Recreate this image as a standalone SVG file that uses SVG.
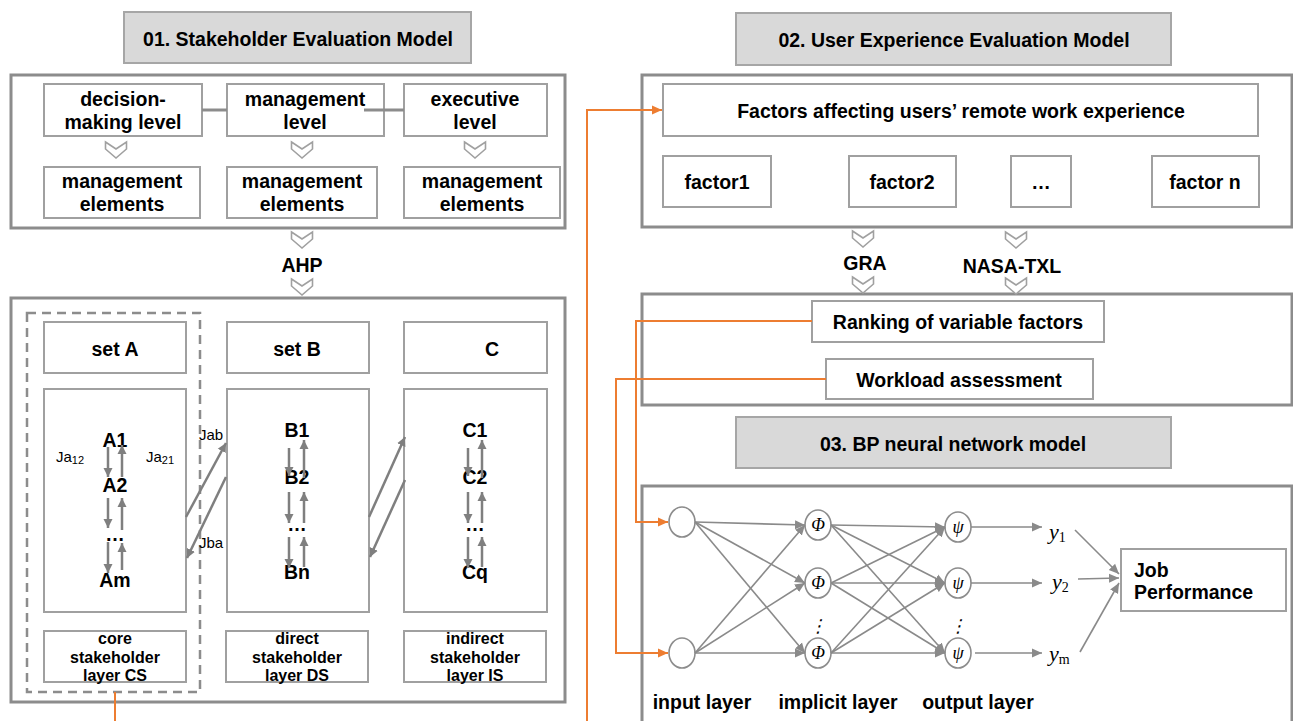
<svg xmlns="http://www.w3.org/2000/svg" width="1293" height="721" viewBox="0 0 1293 721">
<style>
.bg{fill:#fff}
.title{fill:#d9d9d9;stroke:#a6a6a6;stroke-width:2}
.outer{fill:none;stroke:#8c8c8c;stroke-width:3}
.box{fill:#fff;stroke:#a0a0a0;stroke-width:2}
.t{font-family:"Liberation Sans",Arial,sans-serif;font-weight:bold;font-size:19.5px;fill:#000;text-anchor:middle}
.tl{font-family:"Liberation Sans",Arial,sans-serif;font-weight:bold;font-size:19.5px;fill:#000;text-anchor:start}
.ts{font-family:"Liberation Sans",Arial,sans-serif;font-weight:bold;font-size:16px;fill:#000;text-anchor:middle}
.tn{font-family:"Liberation Sans",Arial,sans-serif;font-size:15px;fill:#000}
.m{font-family:"Liberation Serif","DejaVu Serif",serif;font-style:italic;font-size:18px;fill:#000;text-anchor:middle}
.y{font-family:"Liberation Serif","DejaVu Serif",serif;font-style:italic;font-size:22px;fill:#000;text-anchor:start}
.sub{font-style:normal;font-size:14px}
.chev{fill:#fff;stroke:#a0a0a0;stroke-width:1.6;stroke-linejoin:miter}
.ga{fill:none;stroke:#7f7f7f;stroke-width:2.5;marker-end:url(#ag)}
.nn{fill:none;stroke:#8a8a8a;stroke-width:1.6;marker-end:url(#an)}
.or{fill:none;stroke:#ed7d31;stroke-width:2}
.node{fill:#fff;stroke:#8c8c8c;stroke-width:1.6}
.lnk{fill:none;stroke:#8c8c8c;stroke-width:3}
</style>
<defs>
<marker id="ag" markerUnits="userSpaceOnUse" markerWidth="10" markerHeight="10" refX="9" refY="5" orient="auto"><path d="M0,0.5 L9,5 L0,9.5 z" fill="#7f7f7f"/></marker>
<marker id="an" markerUnits="userSpaceOnUse" markerWidth="11" markerHeight="10" refX="10" refY="5" orient="auto"><path d="M0,0.5 L10,5 L0,9.5 z" fill="#8a8a8a"/></marker>
<marker id="ao" markerUnits="userSpaceOnUse" markerWidth="11" markerHeight="10" refX="10" refY="5" orient="auto"><path d="M0,0.5 L10,5 L0,9.5 z" fill="#ed7d31"/></marker>
<path id="chev" class="chev" d="M-10.5,0 L0,7 L10.5,0 L10.5,7 L0,16 L-10.5,7 z"/>
</defs>
<rect class="bg" x="0" y="0" width="1293" height="721"/>

<!-- Section 1 -->
<g id="title1"><rect class="title" x="124" y="12" width="347" height="51"/><text class="t" x="298" y="46">01. Stakeholder Evaluation Model</text></g>
<g id="frame1"><rect class="outer" x="11" y="75" width="554" height="153"/></g>
<g id="frame2"><rect class="outer" x="11" y="298" width="554" height="404"/></g>
<g id="cs-dashed"><rect x="27" y="313" width="173" height="379" fill="none" stroke="#8c8c8c" stroke-width="2.5" stroke-dasharray="9 6"/></g>

<g id="n-decision"><rect class="box" x="44" y="84" width="158" height="52"/><text class="t" x="123" y="106">decision-</text><text class="t" x="123" y="129">making level</text></g>
<g id="n-management"><rect class="box" x="227" y="84" width="157" height="52"/><text class="t" x="305" y="106">management</text><text class="t" x="305" y="129">level</text></g>
<g id="n-executive"><rect class="box" x="404" y="84" width="143" height="52"/><text class="t" x="475" y="106">executive</text><text class="t" x="475" y="129">level</text></g>
<g id="n-elem1"><rect class="box" x="44" y="167" width="156" height="51"/><text class="t" x="122" y="188">management</text><text class="t" x="122" y="211">elements</text></g>
<g id="n-elem2"><rect class="box" x="227" y="167" width="150" height="51"/><text class="t" x="302" y="188">management</text><text class="t" x="302" y="211">elements</text></g>
<g id="n-elem3"><rect class="box" x="404" y="167" width="156" height="51"/><text class="t" x="482" y="188">management</text><text class="t" x="482" y="211">elements</text></g>

<g id="n-ahp"><text class="t" x="302" y="272">AHP</text></g>

<g id="n-setA"><rect class="box" x="44" y="322" width="142" height="51"/><text class="t" x="115" y="356">set A</text></g>
<g id="n-setB"><rect class="box" x="227" y="322" width="142" height="51"/><text class="t" x="297" y="356">set B</text></g>
<g id="n-setC"><rect class="box" x="404" y="322" width="143" height="51"/><text class="t" x="492" y="356">C</text></g>

<g id="n-A"><rect class="box" x="44" y="389" width="142" height="223"/>
<text class="t" x="115" y="447">A1</text><text class="t" x="115" y="492">A2</text><text class="t" x="115" y="541">…</text><text class="t" x="115" y="587">Am</text>
<text class="tn" x="56" y="462">Ja<tspan font-size="11" dy="2">12</tspan></text>
<text class="tn" x="146" y="462">Ja<tspan font-size="11" dy="2">21</tspan></text>
</g>
<g id="n-B"><rect class="box" x="227" y="389" width="142" height="223"/>
<text class="t" x="297" y="437">B1</text><text class="t" x="297" y="484">B2</text><text class="t" x="297" y="531">…</text><text class="t" x="297" y="579">Bn</text>
</g>
<g id="n-C"><rect class="box" x="404" y="389" width="143" height="223"/>
<text class="t" x="475" y="437">C1</text><text class="t" x="475" y="484">C2</text><text class="t" x="475" y="531">…</text><text class="t" x="475" y="579">Cq</text>
</g>

<g id="n-CS"><rect class="box" x="44" y="631" width="142" height="51"/><text class="ts" x="115" y="644">core</text><text class="ts" x="115" y="663">stakeholder</text><text class="ts" x="115" y="681">layer CS</text></g>
<g id="n-DS"><rect class="box" x="226" y="631" width="142" height="51"/><text class="ts" x="297" y="644">direct</text><text class="ts" x="297" y="663">stakeholder</text><text class="ts" x="297" y="681">layer DS</text></g>
<g id="n-IS"><rect class="box" x="404" y="631" width="142" height="51"/><text class="ts" x="475" y="644">indirect</text><text class="ts" x="475" y="663">stakeholder</text><text class="ts" x="475" y="681">layer IS</text></g>

<!-- Section 2 -->
<g id="title2"><rect class="title" x="736" y="13" width="435" height="52"/><text class="t" x="954" y="47">02. User Experience Evaluation Model</text></g>
<g id="frame3"><rect class="outer" x="642" y="75" width="650" height="152"/></g>
<g id="n-factors"><rect class="box" x="663" y="84" width="595" height="52"/><text class="t" x="961" y="118">Factors affecting users’ remote work experience</text></g>
<g id="n-f1"><rect class="box" x="663" y="156" width="108" height="51"/><text class="t" x="717" y="189">factor1</text></g>
<g id="n-f2"><rect class="box" x="849" y="156" width="107" height="51"/><text class="t" x="902" y="189">factor2</text></g>
<g id="n-fdots"><rect class="box" x="1011" y="156" width="60" height="51"/><text class="t" x="1041" y="189">…</text></g>
<g id="n-fn"><rect class="box" x="1152" y="156" width="107" height="51"/><text class="t" x="1205" y="189">factor n</text></g>
<g id="n-gra"><text class="t" x="865" y="270">GRA</text></g>
<g id="n-nasa"><text class="t" x="1012" y="273">NASA-TXL</text></g>
<g id="frame4"><rect class="outer" x="642" y="294" width="650" height="111"/></g>
<g id="n-ranking"><rect class="box" x="812" y="301" width="292" height="41"/><text class="t" x="958" y="329">Ranking of variable factors</text></g>
<g id="n-workload"><rect class="box" x="826" y="359" width="267" height="40"/><text class="t" x="959" y="387">Workload assessment</text></g>

<!-- Section 3 -->
<g id="title3"><rect class="title" x="736" y="417" width="435" height="51"/><text class="t" x="953" y="451">03. BP neural network model</text></g>
<g id="frame5"><path class="outer" d="M642,730 L642,486 L1292,486 L1292,730"/></g>

<g id="n-in1"><ellipse class="node" cx="682" cy="522" rx="13" ry="15"/></g>
<g id="n-in2"><ellipse class="node" cx="682" cy="653" rx="13" ry="15"/></g>
<g id="n-phi1"><ellipse class="node" cx="818" cy="525" rx="13" ry="15"/><text class="m" x="818" y="531">Φ</text></g>
<g id="n-phi2"><ellipse class="node" cx="818" cy="583" rx="13" ry="15"/><text class="m" x="818" y="589">Φ</text></g>
<g id="n-phi3"><ellipse class="node" cx="818" cy="653" rx="13" ry="15"/><text class="m" x="818" y="659">Φ</text></g>
<g id="n-psi1"><ellipse class="node" cx="958" cy="527" rx="13" ry="15"/><text class="m" x="958" y="533">ψ</text></g>
<g id="n-psi2"><ellipse class="node" cx="958" cy="583" rx="13" ry="15"/><text class="m" x="958" y="589">ψ</text></g>
<g id="n-psi3"><ellipse class="node" cx="958" cy="653" rx="13" ry="15"/><text class="m" x="958" y="659">ψ</text></g>
<g id="vdots"><text class="m" x="818" y="632" font-style="normal">⋮</text><text class="m" x="958" y="632" font-style="normal">⋮</text></g>
<g id="n-y1"><text class="y" x="1049" y="539">y<tspan class="sub" dy="3">1</tspan></text></g>
<g id="n-y2"><text class="y" x="1052" y="589">y<tspan class="sub" dy="3">2</tspan></text></g>
<g id="n-ym"><text class="y" x="1049" y="661">y<tspan class="sub" dy="3" font-style="italic">m</tspan></text></g>
<g id="n-job"><rect class="box" x="1121" y="549" width="165" height="62"/><text class="tl" x="1134" y="577">Job</text><text class="tl" x="1134" y="599">Performance</text></g>
<g id="labels"><text class="t" x="702" y="709">input layer</text><text class="t" x="838" y="709">implicit layer</text><text class="t" x="978" y="709">output layer</text></g>

<!-- Connectors -->
<g id="connectors">
<line class="lnk" x1="202" y1="110" x2="227" y2="110"/>
<line class="lnk" x1="364" y1="110" x2="404" y2="110"/>
<use href="#chev" x="116" y="142"/><use href="#chev" x="302" y="142"/><use href="#chev" x="475" y="142"/>
<use href="#chev" x="302" y="232"/><use href="#chev" x="302" y="279"/>
<use href="#chev" x="863" y="231"/><use href="#chev" x="863" y="277"/>
<use href="#chev" x="1016" y="232"/><use href="#chev" x="1016" y="278"/>

<line class="ga" x1="108" y1="447" x2="108" y2="477"/><line class="ga" x1="122" y1="477" x2="122" y2="445"/>
<line class="ga" x1="108" y1="498" x2="108" y2="528"/><line class="ga" x1="122" y1="530" x2="122" y2="498"/>
<line class="ga" x1="108" y1="542" x2="108" y2="573"/><line class="ga" x1="122" y1="570" x2="122" y2="543"/>

<line class="ga" x1="289" y1="448" x2="289" y2="476"/><line class="ga" x1="304" y1="478" x2="304" y2="440"/>
<line class="ga" x1="289" y1="492" x2="289" y2="523"/><line class="ga" x1="304" y1="523" x2="304" y2="492"/>
<line class="ga" x1="289" y1="537" x2="289" y2="568"/><line class="ga" x1="304" y1="567" x2="304" y2="537"/>

<line class="ga" x1="468" y1="448" x2="468" y2="476"/><line class="ga" x1="482" y1="478" x2="482" y2="440"/>
<line class="ga" x1="468" y1="492" x2="468" y2="523"/><line class="ga" x1="482" y1="523" x2="482" y2="492"/>
<line class="ga" x1="468" y1="537" x2="468" y2="568"/><line class="ga" x1="482" y1="567" x2="482" y2="537"/>

<line class="ga" x1="186" y1="517" x2="226" y2="443"/>
<line class="ga" x1="226" y1="477" x2="187" y2="558"/>
<line class="ga" x1="369" y1="517" x2="405" y2="437"/>
<line class="ga" x1="405" y1="480" x2="370" y2="557"/>
<text class="tn" x="199" y="440">Jab</text>
<text class="tn" x="199" y="548">Jba</text>

<line class="nn" x1="695" y1="522" x2="805" y2="525"/>
<line class="nn" x1="695" y1="522" x2="805" y2="583"/>
<line class="nn" x1="695" y1="522" x2="805" y2="653"/>
<line class="nn" x1="695" y1="653" x2="805" y2="525"/>
<line class="nn" x1="695" y1="653" x2="805" y2="583"/>
<line class="nn" x1="695" y1="653" x2="805" y2="653"/>
<line class="nn" x1="831" y1="525" x2="945" y2="527"/>
<line class="nn" x1="831" y1="525" x2="945" y2="583"/>
<line class="nn" x1="831" y1="525" x2="945" y2="653"/>
<line class="nn" x1="831" y1="583" x2="945" y2="527"/>
<line class="nn" x1="831" y1="583" x2="945" y2="583"/>
<line class="nn" x1="831" y1="583" x2="945" y2="653"/>
<line class="nn" x1="831" y1="653" x2="945" y2="527"/>
<line class="nn" x1="831" y1="653" x2="945" y2="583"/>
<line class="nn" x1="831" y1="653" x2="945" y2="653"/>
<line class="nn" x1="971" y1="527" x2="1042" y2="527"/>
<line class="nn" x1="971" y1="583" x2="1042" y2="583"/>
<line class="nn" x1="975" y1="653" x2="1042" y2="653"/>
<line class="nn" x1="1075" y1="530" x2="1119" y2="574"/>
<line class="nn" x1="1078" y1="579" x2="1119" y2="578"/>
<line class="nn" x1="1080" y1="652" x2="1119" y2="583"/>

<path class="or" d="M587,721 L587,110 L662,110" marker-end="url(#ao)"/>
<path class="or" d="M812,321 L636,321 L636,522 L668,522" marker-end="url(#ao)"/>
<path class="or" d="M826,379 L616,379 L616,653 L668,653" marker-end="url(#ao)"/>
<line class="or" x1="115" y1="692" x2="115" y2="721"/>
</g>
</svg>
